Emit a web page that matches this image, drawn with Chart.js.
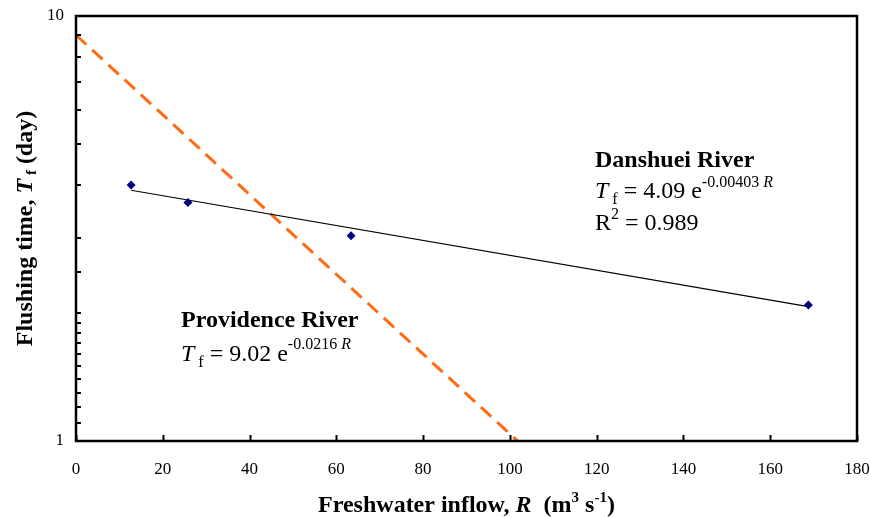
<!DOCTYPE html>
<html>
<head>
<meta charset="utf-8">
<script src="https://cdn.jsdelivr.net/npm/chart.js@4.4.1/dist/chart.umd.min.js"></script>
<style>
  html, body { margin: 0; padding: 0; background: #fff; }
  #wrap { width: 870px; height: 517px; position: relative; }
</style>
</head>
<body>
<div id="wrap"><canvas id="chart"></canvas></div>
<script>
// Danshuei River observations
const danshueiInflow = [12.7, 25.8, 63.4, 168.8];
const danshueiTime = [4.00, 3.64, 3.04, 2.09];
// Danshuei fitted line (end points)
const danshueiFitInflow = [12.7, 168.8];
const danshueiFitTime = [3.89, 2.07];
// Providence River line (end points)
const providenceInflow = [0, 101.8];
const providenceTime = [9.02, 1.0];
// axes
const xTickValues = [0, 20, 40, 60, 80, 100, 120, 140, 160, 180];
const yTickLabels = [1, 10];

const SERIF = '"Liberation Serif", "DejaVu Serif", serif';

function pts(xs, ys) {
    return xs.map((x, i) => ({ x: x, y: ys[i] }));
}

// draw a run of text pieces with their own font and vertical offset
function drawRich(ctx, parts, x, y, align) {
    let total = 0;
    parts.forEach(p => { ctx.font = p.font; total += ctx.measureText(p.t).width; });
    let cx = align === 'center' ? x - total / 2 : x;
    ctx.textAlign = 'left';
    ctx.textBaseline = 'alphabetic';
    parts.forEach(p => {
        ctx.font = p.font;
        ctx.fillText(p.t, cx, y + (p.dy || 0));
        cx += ctx.measureText(p.t).width;
    });
}

const framePlugin = {
    id: 'frame',
    afterDatasetsDraw(chart) {
        const ctx = chart.ctx;
        const a = chart.chartArea;
        const xs = chart.scales.x, ys = chart.scales.y;
        ctx.save();
        ctx.strokeStyle = '#000';
        ctx.lineWidth = 2;
        // inward ticks
        xs.ticks.forEach(t => {
            const px = Math.round(xs.getPixelForValue(t.value)) + 0.5;
            ctx.beginPath(); ctx.moveTo(px, a.bottom); ctx.lineTo(px, a.bottom - 6); ctx.stroke();
        });
        ys.ticks.forEach(t => {
            const py = Math.round(ys.getPixelForValue(t.value));
            ctx.beginPath(); ctx.moveTo(a.left, py); ctx.lineTo(a.left + 5, py); ctx.stroke();
        });
        ctx.lineWidth = 2.5;
        ctx.strokeRect(a.left, a.top, a.right - a.left, a.bottom - a.top);
        ctx.restore();
    },
    afterDraw(chart) {
        const ctx = chart.ctx;
        const a = chart.chartArea;
        ctx.save();
        ctx.fillStyle = '#000';

        // axis titles
        const bt = 'bold 24px ' + SERIF;
        const bti = 'bold italic 24px ' + SERIF;
        const bs = 'bold 15px ' + SERIF;
        drawRich(ctx, [
            { t: 'Freshwater inflow, ', font: bt },
            { t: 'R', font: bti },
            { t: '  (m', font: bt },
            { t: '3', font: bs, dy: -10 },
            { t: ' s', font: bt },
            { t: '-1', font: bs, dy: -10 },
            { t: ')', font: bt }
        ], (a.left + a.right) / 2, 512, 'center');

        ctx.save();
        ctx.translate(32, (a.top + a.bottom) / 2);
        ctx.rotate(-Math.PI / 2);
        drawRich(ctx, [
            { t: 'Flushing time, ', font: bt },
            { t: 'T', font: bti },
            { t: ' f', font: bs, dy: 4 },
            { t: ' (day)', font: bt }
        ], 0, 0, 'center');
        ctx.restore();

        // annotations
        const hb = 'bold 24px ' + SERIF;
        const eq = '24px ' + SERIF;
        const eqi = 'italic 24px ' + SERIF;
        const sm = '16px ' + SERIF;
        const smi = 'italic 16px ' + SERIF;

        drawRich(ctx, [{ t: 'Danshuei River', font: hb }], 595, 167);
        drawRich(ctx, [
            { t: 'T', font: eqi },
            { t: ' f', font: sm, dy: 6 },
            { t: ' = 4.09 e', font: eq },
            { t: '-0.00403 ', font: sm, dy: -11 },
            { t: 'R', font: smi, dy: -11 }
        ], 595, 198);
        drawRich(ctx, [
            { t: 'R', font: eq },
            { t: '2', font: sm, dy: -11 },
            { t: ' = 0.989', font: eq }
        ], 595, 230);

        drawRich(ctx, [{ t: 'Providence River', font: hb }], 181, 327);
        drawRich(ctx, [
            { t: 'T', font: eqi },
            { t: ' f', font: sm, dy: 6 },
            { t: ' = 9.02 e', font: eq },
            { t: '-0.0216 ', font: sm, dy: -12 },
            { t: 'R', font: smi, dy: -12 }
        ], 181, 361);

        ctx.restore();
    }
};

function noPad(s) {
    s.paddingLeft = 0; s.paddingRight = 0; s.paddingTop = 0; s.paddingBottom = 0;
}

new Chart(document.getElementById('chart'), {
    type: 'scatter',
    data: {
        datasets: [
            {
                label: 'Providence River',
                data: pts(providenceInflow, providenceTime),
                showLine: true,
                borderColor: '#FF6A13',
                borderWidth: 3,
                borderDash: [14, 8],
                pointRadius: 0,
                order: 3
            },
            {
                label: 'Danshuei fit',
                data: pts(danshueiFitInflow, danshueiFitTime),
                showLine: true,
                borderColor: '#000',
                borderWidth: 1.2,
                pointRadius: 0,
                order: 2
            },
            {
                label: 'Danshuei River',
                data: pts(danshueiInflow, danshueiTime),
                showLine: false,
                pointStyle: 'rectRot',
                pointRadius: 4.5,
                backgroundColor: '#000080',
                borderColor: '#000080',
                borderWidth: 0,
                order: 1
            }
        ]
    },
    options: {
        responsive: true,
        maintainAspectRatio: false,
        animation: false,
        layout: { padding: { left: 0, top: 16, right: 13, bottom: 0 } },
        plugins: {
            legend: { display: false },
            tooltip: { enabled: false }
        },
        scales: {
            x: {
                type: 'linear',
                min: 0,
                max: 180,
                afterBuildTicks: (s) => { s.ticks = xTickValues.map(v => ({ value: v })); },
                afterFit: (s) => { s.height = 76; noPad(s); },
                grid: { display: false, drawTicks: false },
                border: { display: false },
                ticks: {
                    padding: 18,
                    color: '#000',
                    font: { family: SERIF, size: 17 }
                }
            },
            y: {
                type: 'logarithmic',
                min: 1,
                max: 10,
                afterFit: (s) => { s.width = 76; noPad(s); },
                grid: { display: false, drawTicks: false },
                border: { display: false },
                ticks: {
                    autoSkip: false,
                    padding: 12,
                    color: '#000',
                    font: { family: SERIF, size: 17 },
                    callback: (v) => yTickLabels.includes(v) ? String(v) : ''
                }
            }
        }
    },
    plugins: [framePlugin]
});
</script>
</body>
</html>
